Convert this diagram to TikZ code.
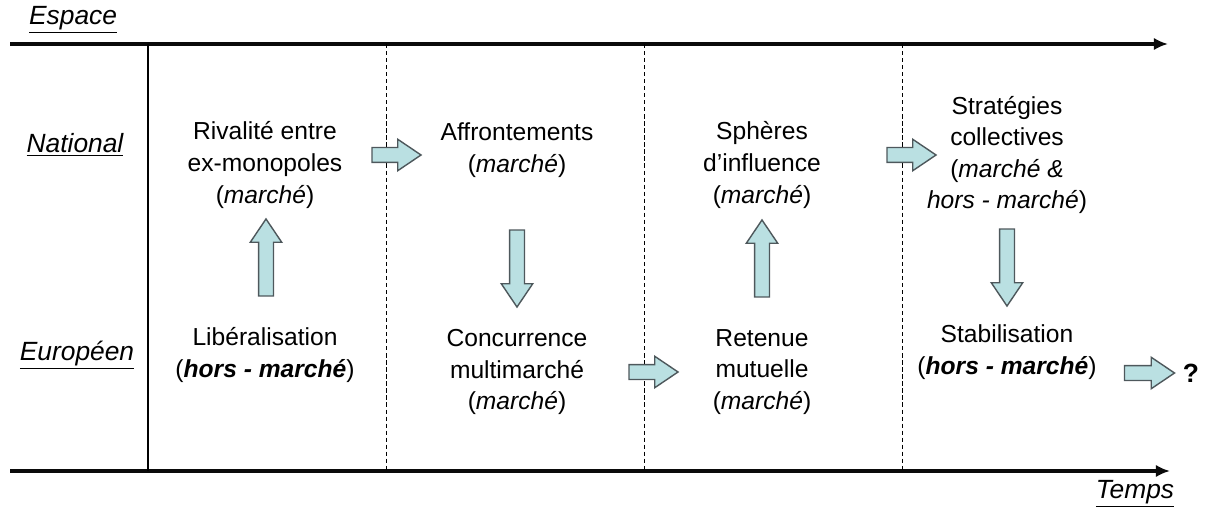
\documentclass[tikz,border=0pt]{standalone}
\usepackage{fontspec}
\setmainfont{Liberation Sans}
\usetikzlibrary{positioning,calc,shapes.arrows,arrows.meta}
\definecolor{arrF}{RGB}{186,224,226}
\definecolor{arrL}{RGB}{78,88,92}
\definecolor{axL}{RGB}{10,10,10}

\begin{document}
\begin{tikzpicture}[
  x=0.2mm, y=-0.2mm,
  font=\fontsize{14}{18}\selectfont,
  txt/.style={align=center, inner sep=1pt},
  ax/.style={font=\fontsize{15}{18}\selectfont\itshape, inner sep=1pt},
  axis/.style={line width=2.1pt, draw=axL, -{Latex[length=8pt,width=7pt]}},
  sep/.style={line width=0.5pt, dash pattern=on 2.4pt off 1.6pt},
  blockarr/.style={single arrow, draw=arrL, fill=arrF, line width=0.8pt,
    inner xsep=0pt, inner ysep=1.35mm, single arrow head extend=1.65mm,
    single arrow tip angle=68},
]
\useasboundingbox (0,0) rectangle (1211,509);

% ---------- axes ----------
\coordinate (topl) at (10,44);
\coordinate (topr) at (1168,44);
\coordinate (botl) at (10,471);
\coordinate (botr) at (1170,471);
\draw[axis] (topl) -- (topr);
\draw[axis] (botl) -- (botr);
\draw[line width=0.6pt] (148,44) -- (148,471);
\foreach \xx in {386,644,902}
  \draw[sep] (\xx,44) -- (\xx,471);

\node[ax, anchor=west] (esp) at (27,20) {\underline{Espace}};
\node[ax] (nat) at (75,145) {\underline{National}};
\node[ax] (eur) at (77,355) {\underline{Européen}};
\node[ax] (tps) at (1135,494) {\underline{Temps}};

% ---------- nodes ----------
\node[txt] (riv) at (265,165) {Rivalité entre\\ex-monopoles\\(\textit{marché})};
\node[txt] (lib) at (265,355) {Libéralisation\\(\textbf{\textit{hors - marché}})};
\node[txt] (aff) at (517,150) {Affrontements\\(\textit{marché})};
\node[txt] (conc) at (517,372) {Concurrence\\multimarché\\(\textit{marché})};
\node[txt] (sph) at (762,165) {Sphères\\d’influence\\(\textit{marché})};
\node[txt] (ret) at (762,372) {Retenue\\mutuelle\\(\textit{marché})};
\node[txt] (strat) at (1007,155) {Stratégies\\collectives\\(\textit{marché \&}\\\textit{hors - marché})};
\node[txt] (stab) at (1007,352) {Stabilisation\\(\textbf{\textit{hors - marché}})};
\node[txt, font=\fontsize{15}{18}\selectfont\bfseries] (quest) at (1191,373) {?};

% ---------- block arrows ----------
\node[blockarr, rotate=90, minimum height=15.4mm] (up1) at (266,263) {};
\node[blockarr, minimum height=9.8mm] (r1) at (391,155) {};
\node[blockarr, rotate=-90, minimum height=15.4mm] (dn1) at (517,263) {};
\node[blockarr, minimum height=9.8mm] (r2) at (648,372) {};
\node[blockarr, rotate=90, minimum height=15.4mm] (up2) at (762,264) {};
\node[blockarr, minimum height=9.8mm] (r3) at (906,155) {};
\node[blockarr, rotate=-90, minimum height=15.4mm] (dn2) at (1007,262) {};
\node[blockarr, minimum height=10mm] (r4) at (1144,373) {};

\end{tikzpicture}
\end{document}
